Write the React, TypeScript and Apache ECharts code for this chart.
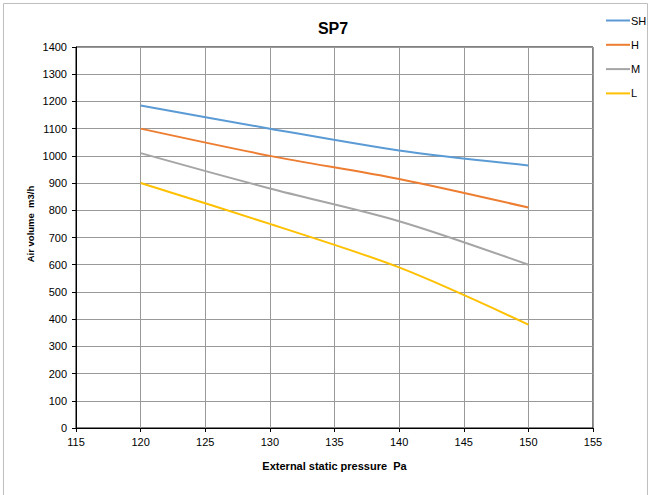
import React, { useEffect, useRef } from "react";
import * as echarts from "echarts";

const pressures = [120, 130, 140, 150];
const seriesNames = ["SH", "H", "M", "L"];
const shValues = [1185, 1100, 1020, 965];
const hValues = [1100, 1000, 915, 810];
const mValues = [1010, 880, 760, 600];
const lValues = [900, 750, 590, 380];
const colors = ["#5B9BD5", "#ED7D31", "#A5A5A5", "#FFC000"];
const yAxisTitle = "Air volume  m3/h";
const xAxisTitle = "External static pressure  Pa";

export default function App() {
  const ref = useRef<HTMLDivElement>(null);
  useEffect(() => {
    if (!ref.current) return;
    const chart = echarts.init(ref.current, null, { renderer: "svg" });
    const allValues = [shValues, hValues, mValues, lValues];
    const font = "Liberation Sans, Arial, sans-serif";
    chart.setOption({
      animation: false,
      backgroundColor: "#fff",
      textStyle: { fontFamily: font },
      title: {
        text: "SP7",
        left: 328,
        top: 15,
        textAlign: "center",
        textStyle: { fontSize: 16, fontWeight: "bold", color: "#000", fontFamily: font },
      },
      legend: {
        orient: "vertical",
        left: 601,
        top: 9,
        itemWidth: 24,
        itemHeight: 2,
        itemGap: 11.3,
        icon: "rect",
        data: seriesNames,
        textStyle: { fontSize: 11, color: "#000", padding: [0, 0, 0, -4], lineHeight: 13, fontFamily: font },
      },
      graphic: [
        {
          type: "rect",
          shape: { x: 3.5, y: 3.5, width: 644, height: 500 },
          style: { fill: "none", stroke: "#bfbfbf", lineWidth: 1 },
          silent: true,
        },
        {
          type: "text",
          x: 30.5,
          y: 224,
          rotation: Math.PI / 2,
          silent: true,
          style: {
            text: yAxisTitle,
            fontSize: 9.5,
            fontWeight: "bold",
            fontFamily: font,
            fill: "#000",
            align: "center",
            verticalAlign: "middle",
          },
        },
      ],
      grid: {
        left: 76,
        right: 58,
        top: 47,
        bottom: 67,
        show: true,
        borderColor: "#000",
        borderWidth: 1,
      },
      xAxis: {
        type: "value",
        min: 115,
        max: 155,
        interval: 5,
        name: xAxisTitle,
        nameLocation: "middle",
        nameGap: 32,
        nameTextStyle: { fontSize: 11, fontWeight: "bold", color: "#000", fontFamily: font },
        axisLine: { show: true, lineStyle: { color: "#000" } },
        axisTick: { show: true, length: 4, inside: false, lineStyle: { color: "#000" } },
        axisLabel: { fontSize: 11, color: "#000", margin: 8, fontFamily: font },
        splitLine: { show: true, lineStyle: { color: "#999", width: 1 } },
      },
      yAxis: {
        type: "value",
        min: 0,
        max: 1400,
        interval: 100,
        axisLine: { show: true, lineStyle: { color: "#000" } },
        axisTick: { show: true, length: 4, lineStyle: { color: "#000" } },
        axisLabel: {
          fontSize: 11,
          color: "#000",
          margin: 9,
          fontFamily: font,
          formatter: (v: number) => String(v),
        },
        splitLine: { show: true, lineStyle: { color: "#999", width: 1 } },
      },
      series: seriesNames.map((name, i) => ({
        name,
        type: "line",
        smooth: 0.3,
        showSymbol: false,
        symbol: "none",
        color: colors[i],
        lineStyle: { width: 2, color: colors[i] },
        data: pressures.map((p, j) => [p, allValues[i][j]]),
      })),
    });
    return () => chart.dispose();
  }, []);
  return (
    <div
      ref={ref}
      style={{ position: "fixed", left: 0, top: 0, width: 651, height: 495 }}
    />
  );
}
